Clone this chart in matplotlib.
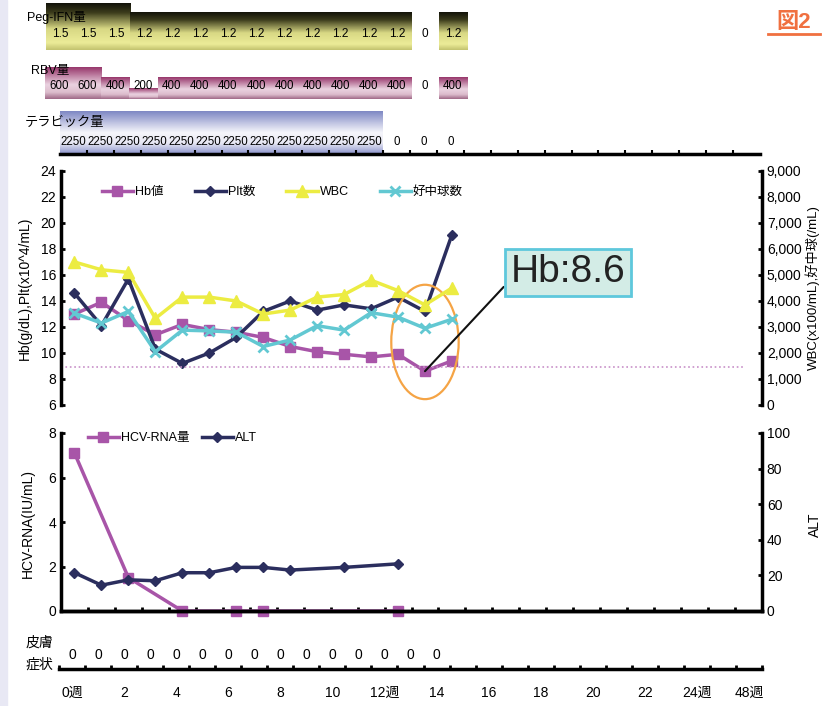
import numpy as np
import matplotlib.pyplot as plt
from matplotlib.colors import LinearSegmentedColormap
from matplotlib.patches import Ellipse, Rectangle
from matplotlib.lines import Line2D
from matplotlib.ticker import FuncFormatter

plt.rcParams['font.family'] = ['Liberation Sans', 'Noto Sans CJK JP', 'DejaVu Sans']

W, H = 822, 706

# 投与量 (週ごと)
peg_ifn = [1.5, 1.5, 1.5, 1.2, 1.2, 1.2, 1.2, 1.2, 1.2, 1.2, 1.2, 1.2, 1.2, 0, 1.2]
rbv = [600, 600, 400, 200, 400, 400, 400, 400, 400, 400, 400, 400, 400, 0, 400]
telaprevir = [2250, 2250, 2250, 2250, 2250, 2250, 2250, 2250, 2250, 2250, 2250, 2250, 0, 0, 0]

# 血液検査
weeks = list(range(15))
hb = [13.0, 13.9, 12.5, 11.4, 12.2, 11.8, 11.6, 11.2, 10.5, 10.1, 9.9, 9.7, 9.9, 8.6, 9.4]
plt_cnt = [14.6, 12.1, 15.7, 10.3, 9.2, 10.0, 11.2, 13.2, 14.0, 13.3, 13.7, 13.4, 14.3, 13.2, 19.1]
wbc = [5500, 5200, 5100, 3330, 4150, 4150, 4000, 3500, 3650, 4150, 4250, 4800, 4400, 3850, 4500]
neut = [3530, 3150, 3600, 2050, 2880, 2850, 2800, 2250, 2500, 3050, 2880, 3550, 3380, 2950, 3300]
hb_limit = 8.9

# HCV-RNA / ALT
rna_weeks = [0, 2, 4, 6, 7, 12]
hcv_rna = [7.1, 1.5, 0, 0, 0, 0]
alt_weeks = [0, 1, 2, 3, 4, 5, 6, 7, 8, 10, 12]
alt = [21.5, 14.5, 17.5, 17, 21.5, 21.5, 24.5, 24.5, 23, 24.5, 26.5]

# 皮膚症状
skin = [0, 0, 0, 0, 0, 0, 0, 0, 0, 0, 0, 0, 0, 0, 0]
week_labels = ['0週', '2', '4', '6', '8', '10', '12週', '14', '16', '18', '20', '22', '24週', '48週']

c_hb = '#a855a8'
c_plt = '#2b2e5e'
c_wbc = '#ecec42'
c_neut = '#62c8d2'

fig = plt.figure(figsize=(W / 100, H / 100), dpi=100)
fig.add_artist(Rectangle((0, 0), 7 / W, 1, transform=fig.transFigure, color='#e8e8f4', zorder=0))


def px_axes(x0, y0, x1, y1):
    return fig.add_axes([x0 / W, 1 - y1 / H, (x1 - x0) / W, (y1 - y0) / H])


def ftext(x, y, s, **kw):
    fig.text(x / W, 1 - y / H, s, **kw)


def gradient_bars(ax, values, cmap):
    grad = np.linspace(0, 1, 64).reshape(-1, 1)
    for i, v in enumerate(values):
        if v > 0:
            ax.imshow(grad, extent=(i - 0.5, i + 0.5, 0, v), aspect='auto',
                      cmap=cmap, origin='upper', interpolation='bilinear')


cm_peg = LinearSegmentedColormap.from_list('peg', [(0, '#14140a'), (0.2, '#3c3c1c'), (0.55, '#d8d884'),
                                                  (0.85, '#ecec98'), (1, '#c4c470')])
cm_rbv = LinearSegmentedColormap.from_list('rbv', [(0, '#98386c'), (0.55, '#ead2e0'),
                                                  (0.8, '#dcbccc'), (1, '#a06a88')])
cm_tel = LinearSegmentedColormap.from_list('tel', [(0, '#7f88c4'), (0.5, '#f6f6fb'),
                                                  (0.75, '#e8e8f4'), (1, '#8c94cc')])

# Peg-IFN
pa = px_axes(46, 3, 467, 50)
gradient_bars(pa, peg_ifn, cm_peg)
for i, v in enumerate(peg_ifn):
    pa.text(i, 0.51, f'{v:g}', ha='center', va='center', fontsize=8.5)
pa.set_xlim(-0.5, 14.5)
pa.set_ylim(0, 1.5)
pa.axis('off')
ftext(27, 17, 'Peg-IFN量', fontsize=9, va='center', zorder=5)

# RBV
ra = px_axes(45, 67, 467, 99)
gradient_bars(ra, rbv, cm_rbv)
for i, v in enumerate(rbv):
    ra.text(i, 244, str(v), ha='center', va='center', fontsize=8.3)
ra.set_xlim(-0.5, 14.5)
ra.set_ylim(0, 600)
ra.axis('off')
ftext(31, 71, 'RBV量', fontsize=9, va='center', zorder=5)

# テラビック
ta = px_axes(60, 111, 760, 154)
gradient_bars(ta, telaprevir, cm_tel)
for i, v in enumerate(telaprevir):
    ta.text(i, 640, str(v), ha='center', va='center', fontsize=8.3)
ta.set_xlim(-0.5, 25.5)
ta.set_ylim(0, 2250)
for s in ['top', 'left', 'right']:
    ta.spines[s].set_visible(False)
ta.spines['bottom'].set_linewidth(2.5)
ta.set_yticks([])
ta.set_xticks(np.arange(0.5, 25, 1))
ta.set_xticklabels([])
ta.tick_params(axis='x', direction='in', length=3, width=1.5)
ftext(25, 123, 'テラビック量', fontsize=9.5, va='center')

# 上段: Hb, Plt, WBC, 好中球
ax = px_axes(61, 171, 762, 405)
ax.plot(weeks, hb, color=c_hb, marker='s', ms=7, lw=2.5)
ax.plot(weeks, plt_cnt, color=c_plt, marker='D', ms=5, lw=2.5)
ax.axhline(hb_limit, xmin=0, xmax=0.976, color='#c890c8', lw=1.2, ls=':')
ax.set_xlim(-0.5, 25.5)
ax.set_ylim(6, 24)
ax.set_yticks(range(6, 25, 2))
ax.set_xticks([])
ax2 = ax.twinx()
ax2.plot(weeks, wbc, color=c_wbc, marker='^', ms=8, lw=2.5)
ax2.plot(weeks, neut, color=c_neut, marker='x', ms=7, mew=2, lw=2.5)
ax2.set_ylim(0, 9000)
ax2.set_yticks(range(0, 9001, 1000))
ax2.yaxis.set_major_formatter(FuncFormatter(lambda v, p: f'{int(v):,}'))
for a in (ax, ax2):
    a.spines['top'].set_visible(False)
    a.spines['bottom'].set_visible(False)
    a.tick_params(axis='y', direction='in', length=3, width=2, labelsize=10)
ax.spines['right'].set_visible(False)
ax2.spines['left'].set_visible(False)
ax.spines['left'].set_linewidth(2.5)
ax2.spines['right'].set_linewidth(2.5)

ax2.add_patch(Ellipse((13.0, 10.85), 2.5, 8.8, transform=ax.transData,
                      fill=False, ec='#f5a445', lw=1.6))
ax2.annotate('Hb:8.6', xy=(13, 8.6), xycoords=ax.transData,
             xytext=(18.3, 16.2), textcoords=ax.transData,
             fontsize=28, color='#222222', ha='center', va='center',
             bbox=dict(boxstyle='square,pad=0.15', fc='#d3ece6', ec='#5ec8dc', lw=2),
             arrowprops=dict(arrowstyle='-', color='#111111', lw=1.5, relpos=(0, 0.3),
                             shrinkA=0, shrinkB=0))

handles = [Line2D([], [], color=c_hb, marker='s', ms=7, lw=2.5),
           Line2D([], [], color=c_plt, marker='D', ms=5, lw=2.5),
           Line2D([], [], color=c_wbc, marker='^', ms=8, lw=2.5),
           Line2D([], [], color=c_neut, marker='x', ms=7, mew=2, lw=2.5)]
ax2.legend(handles, ['Hb値', 'Plt数', 'WBC', '好中球数'], ncol=4, frameon=False,
           loc='center left', bbox_to_anchor=(0.042, 0.91), fontsize=9,
           handlelength=2.5, handletextpad=0.15, columnspacing=2.5)

ftext(25, 288, 'Hb(g/dL),Plt(x10^4/mL)', rotation=90, ha='center', va='center', fontsize=10)
ftext(813, 288, 'WBC(x100/mL),好中球(/mL)', rotation=90, ha='center', va='center', fontsize=9.5)

# 下段: HCV-RNA, ALT
bx = px_axes(61, 433, 762, 611)
bx.plot(rna_weeks, hcv_rna, color=c_hb, marker='s', ms=7, lw=2.5, clip_on=False)
bx.set_xlim(-0.5, 25.5)
bx.set_ylim(0, 8)
bx.set_yticks(range(0, 9, 2))
bx.set_xticks(np.arange(0.5, 25, 1))
bx.set_xticklabels([])
bx2 = bx.twinx()
bx2.plot(alt_weeks, alt, color=c_plt, marker='D', ms=5, lw=2.5)
bx2.set_ylim(0, 100)
bx2.set_yticks(range(0, 101, 20))
for a in (bx, bx2):
    a.spines['top'].set_visible(False)
    a.tick_params(axis='both', direction='in', length=3, width=2, labelsize=10)
    for s in ['left', 'right', 'bottom']:
        a.spines[s].set_linewidth(2.5)
bx.spines['right'].set_visible(False)
bx2.spines['left'].set_visible(False)
bx2.legend([Line2D([], [], color=c_hb, marker='s', ms=7, lw=2.5),
            Line2D([], [], color=c_plt, marker='D', ms=5, lw=2.5)],
           ['HCV-RNA量', 'ALT'], ncol=2, frameon=False, loc='center left',
           bbox_to_anchor=(0.022, 0.97), fontsize=9,
           handlelength=2.5, handletextpad=0.15, columnspacing=1.0)
ftext(28, 523, 'HCV-RNA(IU/mL)', rotation=90, ha='center', va='center', fontsize=10)
ftext(815, 525, 'ALT', rotation=90, ha='center', va='center', fontsize=10)

# 皮膚症状
sx = px_axes(59, 640, 762, 669)
sx.set_xlim(-0.5, 26.5)
sx.set_ylim(0, 1)
for i, v in enumerate(skin):
    sx.text(i, 0.48, str(v), ha='center', va='center', fontsize=10)
for s in ['top', 'left', 'right']:
    sx.spines[s].set_visible(False)
sx.spines['bottom'].set_linewidth(2.5)
sx.set_yticks([])
sx.set_xticks(range(0, 27, 2))
sx.set_xticklabels(week_labels, fontsize=10)
sx.set_xticks(np.arange(-0.5, 27, 1), minor=True)
sx.tick_params(axis='x', which='major', length=0, pad=12)
sx.tick_params(axis='x', which='minor', direction='in', length=3, width=2)
ftext(39, 643, '皮膚', ha='center', va='center', fontsize=10)
ftext(39, 665, '症状', ha='center', va='center', fontsize=10)

# 図番号
ftext(794, 22, '図2', ha='center', va='center', fontsize=16, fontweight='bold', color='#f07040')
fig.add_artist(Line2D([768 / W, 820 / W], [1 - 34 / H, 1 - 34 / H], color='#f07040', lw=2))

fig.savefig('out.png', dpi=100)
